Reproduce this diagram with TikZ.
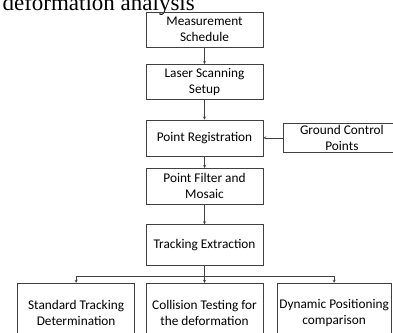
\documentclass[tikz,border=0pt]{standalone}
\usepackage{fontspec}
\setmainfont{Carlito}
\newfontfamily\titlefont{Liberation Serif}
\usepackage{tikz}
\usetikzlibrary{shapes,arrows,positioning,calc}

\begin{document}
\begin{tikzpicture}[
    x=1pt, y=1pt,
    block/.style={rectangle, draw=black!75, align=center, minimum width=117pt, minimum height=35pt, inner sep=2pt, font=\fontsize{13.3}{16}\selectfont},
    arrow/.style={->, draw=black!75, >=stealth}
]
    \useasboundingbox (0,0) rectangle (393,-332);

    % Title (cut off at the top)
    \node[anchor=base east, inner sep=0pt, font=\titlefont\fontsize{23}{26}\selectfont] (title) at (195,-10.5) {deformation analysis};

    % Nodes
    \node[block] (schedule) at (204.5,-29.5) {Measurement\\Schedule};
    \node[block, below=17pt of schedule] (setup) {Laser Scanning\\Setup};
    \node[block, below=20pt of setup, minimum height=36pt] (reg) {Point Registration};
    \node[block, right=20pt of reg, minimum height=29pt] (gcp) {Ground Control\\Points};
    \node[block, below=12pt of reg, minimum height=36pt] (filter) {Point Filter and\\Mosaic};
    \node[block, below=20pt of filter, minimum height=41pt] (track) {Tracking Extraction};
    \node[block, below=17pt of track, minimum height=60pt] (coll) {Collision Testing for\\the deformation};
    \node[block, left=11pt of coll, minimum height=60pt] (std) {Standard Tracking\\Determination};
    \node[block, right=14pt of coll, minimum height=60pt, minimum width=111pt] (dyn) {Dynamic Positioning\\comparison};

    % Arrows
    \draw[arrow] (schedule) -- (setup);
    \draw[arrow] (setup) -- (reg);
    \draw[arrow] (gcp) -- (reg);
    \draw[arrow] (reg) -- (filter);
    \draw[arrow] (filter) -- (track);
    \draw[arrow] (track) -- (coll);
    \draw[arrow] (track.south) -- ++(0,-10) -| (std);
    \draw[arrow] (track.south) -- ++(0,-10) -| (dyn);
\end{tikzpicture}
\end{document}
